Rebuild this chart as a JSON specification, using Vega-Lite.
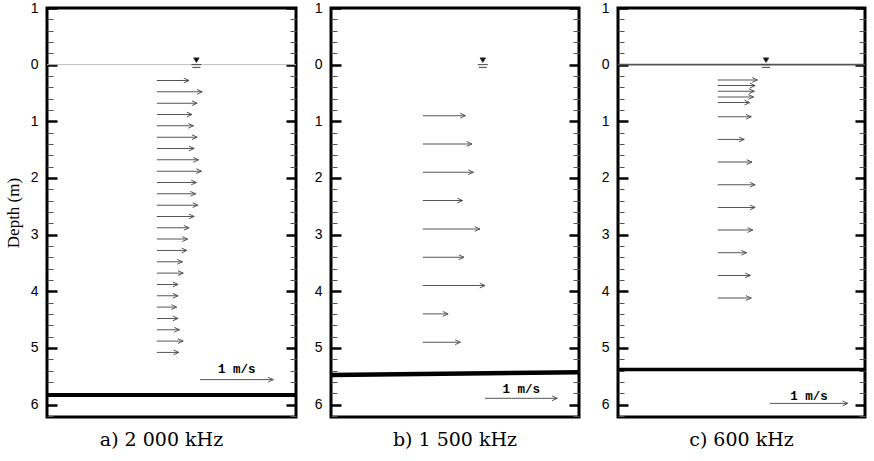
{
  "$schema": "https://vega.github.io/schema/vega-lite/v6.json",
  "background": "white",
  "padding": {"left": 2, "top": -1, "right": 0, "bottom": 0},
  "config": {
    "view": {"stroke": "black", "strokeWidth": 3},
    "scale": {"continuousPadding": 0},
    "axis": {"labelFont": "Liberation Sans", "labelFontSize": 14, "labelColor": "black"},
    "title": {"font": "DejaVu Serif", "fontSize": 19, "fontWeight": "normal", "color": "black", "orient": "bottom", "frame": "group", "anchor": "middle", "offset": 14}
  },
  "datasets": {
    "arrowsA": [
      {"depth": 0.28, "u": 0.44}, {"depth": 0.48, "u": 0.62}, {"depth": 0.68, "u": 0.55}, {"depth": 0.88, "u": 0.48},
      {"depth": 1.08, "u": 0.50}, {"depth": 1.28, "u": 0.55}, {"depth": 1.48, "u": 0.51}, {"depth": 1.68, "u": 0.57},
      {"depth": 1.88, "u": 0.61}, {"depth": 2.08, "u": 0.54}, {"depth": 2.28, "u": 0.53}, {"depth": 2.48, "u": 0.56},
      {"depth": 2.68, "u": 0.51}, {"depth": 2.88, "u": 0.44}, {"depth": 3.08, "u": 0.42}, {"depth": 3.28, "u": 0.41},
      {"depth": 3.48, "u": 0.35}, {"depth": 3.68, "u": 0.36}, {"depth": 3.88, "u": 0.29}, {"depth": 4.08, "u": 0.29},
      {"depth": 4.28, "u": 0.27}, {"depth": 4.48, "u": 0.29}, {"depth": 4.68, "u": 0.31}, {"depth": 4.88, "u": 0.36},
      {"depth": 5.08, "u": 0.30}
    ],
    "arrowsB": [
      {"depth": 0.9, "u": 0.59}, {"depth": 1.4, "u": 0.68}, {"depth": 1.9, "u": 0.70}, {"depth": 2.4, "u": 0.55},
      {"depth": 2.9, "u": 0.79}, {"depth": 3.4, "u": 0.57}, {"depth": 3.9, "u": 0.86}, {"depth": 4.4, "u": 0.35},
      {"depth": 4.9, "u": 0.52}
    ],
    "arrowsC": [
      {"depth": 0.27, "u": 0.51}, {"depth": 0.37, "u": 0.48}, {"depth": 0.47, "u": 0.47}, {"depth": 0.57, "u": 0.46},
      {"depth": 0.67, "u": 0.41}, {"depth": 0.92, "u": 0.43}, {"depth": 1.32, "u": 0.34}, {"depth": 1.72, "u": 0.44},
      {"depth": 2.12, "u": 0.48}, {"depth": 2.52, "u": 0.48}, {"depth": 2.92, "u": 0.45}, {"depth": 3.32, "u": 0.37},
      {"depth": 3.72, "u": 0.42}, {"depth": 4.12, "u": 0.43}
    ],
    "scaleA": [{"from": 0.59, "to": 1.59, "depth": 5.56, "tx": 1.09, "tdepth": 5.37, "label": "1 m/s"}],
    "scaleB": [{"from": 0.86, "to": 1.86, "depth": 5.89, "tx": 1.36, "tdepth": 5.72, "label": "1 m/s"}],
    "scaleC": [{"from": 0.67, "to": 1.67, "depth": 5.98, "tx": 1.17, "tdepth": 5.85, "label": "1 m/s"}],
    "bedA": [{"x": -1.50, "depth": 5.83}, {"x": 1.90, "depth": 5.83}],
    "bedB": [{"x": -1.27, "depth": 5.48}, {"x": 2.16, "depth": 5.43}],
    "bedC": [{"x": -1.28, "depth": 5.38}, {"x": 1.89, "depth": 5.38}],
    "surfA": [{"x": -1.50, "depth": 0}, {"x": 1.90, "depth": 0}],
    "surfC": [{"x": -1.28, "depth": 0}, {"x": 1.89, "depth": 0}],
    "markA": [{"x": 0.54, "depth": 0}],
    "markB": [{"x": 0.83, "depth": 0}],
    "markC": [{"x": 0.62, "depth": 0}]
  },
  "spacing": 6,
  "hconcat": [
    {
      "width": 249, "height": 409,
      "title": {"text": "a) 2 000 kHz", "dx": -10},
      "resolve": {"axis": {"y": "independent"}},
      "layer": [
        {
          "data": {"name": "surfA"},
          "mark": {"type": "line", "color": "#bdbdbd", "strokeWidth": 1},
          "encoding": {
            "x": {"field": "x", "type": "quantitative", "scale": {"domain": [-1.50, 1.90], "nice": false, "zero": false, "padding": 0}, "axis": null},
            "y": {"field": "depth", "type": "quantitative", "scale": {"domain": [-1, 6.22], "reverse": true, "nice": false, "zero": false, "padding": 0}, "axis": null}
          }
        },
        {
          "data": {"name": "arrowsA"},
          "mark": {"type": "bar", "orient": "horizontal", "height": 1, "color": "#555555"},
          "encoding": {
            "x": {"field": "u", "type": "quantitative", "stack": null, "scale": {"domain": [-1.50, 1.90], "nice": false, "zero": false, "padding": 0}, "axis": null},
            "y": {"field": "depth", "type": "quantitative", "scale": {"domain": [-1, 6.22], "reverse": true, "nice": false, "zero": false, "padding": 0},
              "axis": {"orient": "left", "values": [-1, 0, 1, 2, 3, 4, 5, 6], "labelExpr": "format(abs(datum.value), 'd')", "ticks": false, "domain": false, "grid": false, "labelPadding": 9,
                "title": "Depth (m)", "titleFont": "Liberation Serif", "titleFontSize": 17, "titleFontWeight": "normal", "titleColor": "black", "titlePadding": 8}}
          }
        },
        {
          "data": {"name": "arrowsA"},
          "mark": {"type": "point", "shape": "M-1,-0.45L0,0L-1,0.45", "filled": false, "stroke": "#555555", "strokeWidth": 1, "size": 110, "opacity": 1},
          "encoding": {
            "x": {"field": "u", "type": "quantitative", "scale": {"domain": [-1.50, 1.90], "nice": false, "zero": false, "padding": 0}, "axis": null},
            "y": {"field": "depth", "type": "quantitative", "scale": {"domain": [-1, 6.22], "reverse": true, "nice": false, "zero": false, "padding": 0},
              "axis": {"orient": "left", "values": [-1, 0, 1, 2, 3, 4, 5, 6], "labels": false, "domain": false, "grid": false, "title": null, "tickSize": -10, "tickWidth": 2.5, "tickColor": "black"}}
          }
        },
        {
          "data": {"name": "scaleA"},
          "mark": {"type": "rule", "color": "#555555", "strokeWidth": 1},
          "encoding": {
            "x": {"field": "from", "type": "quantitative", "scale": {"domain": [-1.50, 1.90], "nice": false, "zero": false, "padding": 0}, "axis": null},
            "x2": {"field": "to"},
            "y": {"field": "depth", "type": "quantitative", "scale": {"domain": [-1, 6.22], "reverse": true, "nice": false, "zero": false, "padding": 0},
              "axis": {"orient": "left", "values": [-0.8, -0.6, -0.4, -0.2, 0.2, 0.4, 0.6, 0.8, 1.2, 1.4, 1.6, 1.8, 2.2, 2.4, 2.6, 2.8, 3.2, 3.4, 3.6, 3.8, 4.2, 4.4, 4.6, 4.8, 5.2, 5.4, 5.6, 5.8, 6.2], "labels": false, "domain": false, "grid": false, "title": null, "tickSize": -6, "tickWidth": 1, "tickColor": "#555555"}}
          }
        },
        {
          "data": {"name": "scaleA"},
          "mark": {"type": "point", "shape": "M-1,-0.45L0,0L-1,0.45", "filled": false, "stroke": "#555555", "strokeWidth": 1, "size": 110, "opacity": 1},
          "encoding": {
            "x": {"field": "to", "type": "quantitative", "scale": {"domain": [-1.50, 1.90], "nice": false, "zero": false, "padding": 0}, "axis": null},
            "y": {"field": "depth", "type": "quantitative", "scale": {"domain": [-1, 6.22], "reverse": true, "nice": false, "zero": false, "padding": 0},
              "axis": {"orient": "right", "values": [-1, 0, 1, 2, 3, 4, 5, 6], "labels": false, "domain": false, "grid": false, "title": null, "tickSize": -10, "tickWidth": 2.5, "tickColor": "black"}}
          }
        },
        {
          "data": {"name": "scaleA"},
          "mark": {"type": "text", "font": "Liberation Mono", "fontWeight": "bold", "fontSize": 12.5, "color": "black", "baseline": "middle", "align": "center"},
          "encoding": {
            "x": {"field": "tx", "type": "quantitative", "scale": {"domain": [-1.50, 1.90], "nice": false, "zero": false, "padding": 0}, "axis": null},
            "y": {"field": "tdepth", "type": "quantitative", "scale": {"domain": [-1, 6.22], "reverse": true, "nice": false, "zero": false, "padding": 0},
              "axis": {"orient": "right", "values": [-0.8, -0.6, -0.4, -0.2, 0.2, 0.4, 0.6, 0.8, 1.2, 1.4, 1.6, 1.8, 2.2, 2.4, 2.6, 2.8, 3.2, 3.4, 3.6, 3.8, 4.2, 4.4, 4.6, 4.8, 5.2, 5.4, 5.6, 5.8, 6.2], "labels": false, "domain": false, "grid": false, "title": null, "tickSize": -6, "tickWidth": 1, "tickColor": "#555555"}},
            "text": {"field": "label", "type": "nominal"}
          }
        },
        {
          "data": {"name": "bedA"},
          "mark": {"type": "line", "color": "black", "strokeWidth": 4, "strokeCap": "butt"},
          "encoding": {
            "x": {"field": "x", "type": "quantitative", "scale": {"domain": [-1.50, 1.90], "nice": false, "zero": false, "padding": 0}, "axis": null},
            "y": {"field": "depth", "type": "quantitative", "scale": {"domain": [-1, 6.22], "reverse": true, "nice": false, "zero": false, "padding": 0}, "axis": null}
          }
        },
        {
          "data": {"name": "markA"},
          "mark": {"type": "point", "shape": "M-0.55,-1.35L0.55,-1.35L0,-0.45Z M-1,0L1,0 M-0.8,0.55L0.8,0.55", "filled": true, "fill": "black", "stroke": "#444444", "strokeWidth": 1, "size": 100, "opacity": 1},
          "encoding": {
            "x": {"field": "x", "type": "quantitative", "scale": {"domain": [-1.50, 1.90], "nice": false, "zero": false, "padding": 0}, "axis": null},
            "y": {"field": "depth", "type": "quantitative", "scale": {"domain": [-1, 6.22], "reverse": true, "nice": false, "zero": false, "padding": 0}, "axis": null}
          }
        }
      ]
    },
    {
      "spacing": 9,
      "hconcat": [
        {
          "width": 248, "height": 409,
          "title": {"text": "b) 1 500 kHz"},
          "resolve": {"axis": {"y": "independent"}},
          "layer": [
            {
              "data": {"name": "arrowsB"},
              "mark": {"type": "bar", "orient": "horizontal", "height": 1, "color": "#555555"},
              "encoding": {
                "x": {"field": "u", "type": "quantitative", "stack": null, "scale": {"domain": [-1.27, 2.16], "nice": false, "zero": false, "padding": 0}, "axis": null},
                "y": {"field": "depth", "type": "quantitative", "scale": {"domain": [-1, 6.22], "reverse": true, "nice": false, "zero": false, "padding": 0},
                  "axis": {"orient": "left", "values": [-1, 0, 1, 2, 3, 4, 5, 6], "labelExpr": "format(abs(datum.value), 'd')", "ticks": false, "domain": false, "grid": false, "labelPadding": 9, "title": null}}
              }
            },
            {
              "data": {"name": "arrowsB"},
              "mark": {"type": "point", "shape": "M-1,-0.45L0,0L-1,0.45", "filled": false, "stroke": "#555555", "strokeWidth": 1, "size": 110, "opacity": 1},
              "encoding": {
                "x": {"field": "u", "type": "quantitative", "scale": {"domain": [-1.27, 2.16], "nice": false, "zero": false, "padding": 0}, "axis": null},
                "y": {"field": "depth", "type": "quantitative", "scale": {"domain": [-1, 6.22], "reverse": true, "nice": false, "zero": false, "padding": 0},
                  "axis": {"orient": "left", "values": [-1, 0, 1, 2, 3, 4, 5, 6], "labels": false, "domain": false, "grid": false, "title": null, "tickSize": -10, "tickWidth": 2.5, "tickColor": "black"}}
              }
            },
            {
              "data": {"name": "scaleB"},
              "mark": {"type": "rule", "color": "#555555", "strokeWidth": 1},
              "encoding": {
                "x": {"field": "from", "type": "quantitative", "scale": {"domain": [-1.27, 2.16], "nice": false, "zero": false, "padding": 0}, "axis": null},
                "x2": {"field": "to"},
                "y": {"field": "depth", "type": "quantitative", "scale": {"domain": [-1, 6.22], "reverse": true, "nice": false, "zero": false, "padding": 0},
                  "axis": {"orient": "left", "values": [-0.8, -0.6, -0.4, -0.2, 0.2, 0.4, 0.6, 0.8, 1.2, 1.4, 1.6, 1.8, 2.2, 2.4, 2.6, 2.8, 3.2, 3.4, 3.6, 3.8, 4.2, 4.4, 4.6, 4.8, 5.2, 5.4, 5.6, 5.8, 6.2], "labels": false, "domain": false, "grid": false, "title": null, "tickSize": -6, "tickWidth": 1, "tickColor": "#555555"}}
              }
            },
            {
              "data": {"name": "scaleB"},
              "mark": {"type": "point", "shape": "M-1,-0.45L0,0L-1,0.45", "filled": false, "stroke": "#555555", "strokeWidth": 1, "size": 110, "opacity": 1},
              "encoding": {
                "x": {"field": "to", "type": "quantitative", "scale": {"domain": [-1.27, 2.16], "nice": false, "zero": false, "padding": 0}, "axis": null},
                "y": {"field": "depth", "type": "quantitative", "scale": {"domain": [-1, 6.22], "reverse": true, "nice": false, "zero": false, "padding": 0},
                  "axis": {"orient": "right", "values": [-1, 0, 1, 2, 3, 4, 5, 6], "labels": false, "domain": false, "grid": false, "title": null, "tickSize": -10, "tickWidth": 2.5, "tickColor": "black"}}
              }
            },
            {
              "data": {"name": "scaleB"},
              "mark": {"type": "text", "font": "Liberation Mono", "fontWeight": "bold", "fontSize": 12.5, "color": "black", "baseline": "middle", "align": "center"},
              "encoding": {
                "x": {"field": "tx", "type": "quantitative", "scale": {"domain": [-1.27, 2.16], "nice": false, "zero": false, "padding": 0}, "axis": null},
                "y": {"field": "tdepth", "type": "quantitative", "scale": {"domain": [-1, 6.22], "reverse": true, "nice": false, "zero": false, "padding": 0},
                  "axis": {"orient": "right", "values": [-0.8, -0.6, -0.4, -0.2, 0.2, 0.4, 0.6, 0.8, 1.2, 1.4, 1.6, 1.8, 2.2, 2.4, 2.6, 2.8, 3.2, 3.4, 3.6, 3.8, 4.2, 4.4, 4.6, 4.8, 5.2, 5.4, 5.6, 5.8, 6.2], "labels": false, "domain": false, "grid": false, "title": null, "tickSize": -6, "tickWidth": 1, "tickColor": "#555555"}},
                "text": {"field": "label", "type": "nominal"}
              }
            },
            {
              "data": {"name": "bedB"},
              "mark": {"type": "line", "color": "black", "strokeWidth": 4.5, "strokeCap": "butt"},
              "encoding": {
                "x": {"field": "x", "type": "quantitative", "scale": {"domain": [-1.27, 2.16], "nice": false, "zero": false, "padding": 0}, "axis": null},
                "y": {"field": "depth", "type": "quantitative", "scale": {"domain": [-1, 6.22], "reverse": true, "nice": false, "zero": false, "padding": 0}, "axis": null}
              }
            },
            {
              "data": {"name": "markB"},
              "mark": {"type": "point", "shape": "M-0.55,-1.35L0.55,-1.35L0,-0.45Z M-1,0L1,0 M-0.8,0.55L0.8,0.55", "filled": true, "fill": "black", "stroke": "#444444", "strokeWidth": 1, "size": 100, "opacity": 1},
              "encoding": {
                "x": {"field": "x", "type": "quantitative", "scale": {"domain": [-1.27, 2.16], "nice": false, "zero": false, "padding": 0}, "axis": null},
                "y": {"field": "depth", "type": "quantitative", "scale": {"domain": [-1, 6.22], "reverse": true, "nice": false, "zero": false, "padding": 0}, "axis": null}
              }
            }
          ]
        },
        {
          "width": 247, "height": 409,
          "title": {"text": "c) 600 kHz"},
          "resolve": {"axis": {"y": "independent"}},
          "layer": [
            {
              "data": {"name": "surfC"},
              "mark": {"type": "line", "color": "#555555", "strokeWidth": 1.6},
              "encoding": {
                "x": {"field": "x", "type": "quantitative", "scale": {"domain": [-1.28, 1.89], "nice": false, "zero": false, "padding": 0}, "axis": null},
                "y": {"field": "depth", "type": "quantitative", "scale": {"domain": [-1, 6.22], "reverse": true, "nice": false, "zero": false, "padding": 0}, "axis": null}
              }
            },
            {
              "data": {"name": "arrowsC"},
              "mark": {"type": "bar", "orient": "horizontal", "height": 1, "color": "#555555"},
              "encoding": {
                "x": {"field": "u", "type": "quantitative", "stack": null, "scale": {"domain": [-1.28, 1.89], "nice": false, "zero": false, "padding": 0}, "axis": null},
                "y": {"field": "depth", "type": "quantitative", "scale": {"domain": [-1, 6.22], "reverse": true, "nice": false, "zero": false, "padding": 0},
                  "axis": {"orient": "left", "values": [-1, 0, 1, 2, 3, 4, 5, 6], "labelExpr": "format(abs(datum.value), 'd')", "ticks": false, "domain": false, "grid": false, "labelPadding": 9, "title": null}}
              }
            },
            {
              "data": {"name": "arrowsC"},
              "mark": {"type": "point", "shape": "M-1,-0.45L0,0L-1,0.45", "filled": false, "stroke": "#555555", "strokeWidth": 1, "size": 110, "opacity": 1},
              "encoding": {
                "x": {"field": "u", "type": "quantitative", "scale": {"domain": [-1.28, 1.89], "nice": false, "zero": false, "padding": 0}, "axis": null},
                "y": {"field": "depth", "type": "quantitative", "scale": {"domain": [-1, 6.22], "reverse": true, "nice": false, "zero": false, "padding": 0},
                  "axis": {"orient": "left", "values": [-1, 0, 1, 2, 3, 4, 5, 6], "labels": false, "domain": false, "grid": false, "title": null, "tickSize": -10, "tickWidth": 2.5, "tickColor": "black"}}
              }
            },
            {
              "data": {"name": "scaleC"},
              "mark": {"type": "rule", "color": "#555555", "strokeWidth": 1},
              "encoding": {
                "x": {"field": "from", "type": "quantitative", "scale": {"domain": [-1.28, 1.89], "nice": false, "zero": false, "padding": 0}, "axis": null},
                "x2": {"field": "to"},
                "y": {"field": "depth", "type": "quantitative", "scale": {"domain": [-1, 6.22], "reverse": true, "nice": false, "zero": false, "padding": 0},
                  "axis": {"orient": "left", "values": [-0.8, -0.6, -0.4, -0.2, 0.2, 0.4, 0.6, 0.8, 1.2, 1.4, 1.6, 1.8, 2.2, 2.4, 2.6, 2.8, 3.2, 3.4, 3.6, 3.8, 4.2, 4.4, 4.6, 4.8, 5.2, 5.4, 5.6, 5.8, 6.2], "labels": false, "domain": false, "grid": false, "title": null, "tickSize": -6, "tickWidth": 1, "tickColor": "#555555"}}
              }
            },
            {
              "data": {"name": "scaleC"},
              "mark": {"type": "point", "shape": "M-1,-0.45L0,0L-1,0.45", "filled": false, "stroke": "#555555", "strokeWidth": 1, "size": 110, "opacity": 1},
              "encoding": {
                "x": {"field": "to", "type": "quantitative", "scale": {"domain": [-1.28, 1.89], "nice": false, "zero": false, "padding": 0}, "axis": null},
                "y": {"field": "depth", "type": "quantitative", "scale": {"domain": [-1, 6.22], "reverse": true, "nice": false, "zero": false, "padding": 0},
                  "axis": {"orient": "right", "values": [-1, 0, 1, 2, 3, 4, 5, 6], "labels": false, "domain": false, "grid": false, "title": null, "tickSize": -10, "tickWidth": 2.5, "tickColor": "black"}}
              }
            },
            {
              "data": {"name": "scaleC"},
              "mark": {"type": "text", "font": "Liberation Mono", "fontWeight": "bold", "fontSize": 12.5, "color": "black", "baseline": "middle", "align": "center"},
              "encoding": {
                "x": {"field": "tx", "type": "quantitative", "scale": {"domain": [-1.28, 1.89], "nice": false, "zero": false, "padding": 0}, "axis": null},
                "y": {"field": "tdepth", "type": "quantitative", "scale": {"domain": [-1, 6.22], "reverse": true, "nice": false, "zero": false, "padding": 0},
                  "axis": {"orient": "right", "values": [-0.8, -0.6, -0.4, -0.2, 0.2, 0.4, 0.6, 0.8, 1.2, 1.4, 1.6, 1.8, 2.2, 2.4, 2.6, 2.8, 3.2, 3.4, 3.6, 3.8, 4.2, 4.4, 4.6, 4.8, 5.2, 5.4, 5.6, 5.8, 6.2], "labels": false, "domain": false, "grid": false, "title": null, "tickSize": -6, "tickWidth": 1, "tickColor": "#555555"}},
                "text": {"field": "label", "type": "nominal"}
              }
            },
            {
              "data": {"name": "bedC"},
              "mark": {"type": "line", "color": "black", "strokeWidth": 3.5, "strokeCap": "butt"},
              "encoding": {
                "x": {"field": "x", "type": "quantitative", "scale": {"domain": [-1.28, 1.89], "nice": false, "zero": false, "padding": 0}, "axis": null},
                "y": {"field": "depth", "type": "quantitative", "scale": {"domain": [-1, 6.22], "reverse": true, "nice": false, "zero": false, "padding": 0}, "axis": null}
              }
            },
            {
              "data": {"name": "markC"},
              "mark": {"type": "point", "shape": "M-0.55,-1.35L0.55,-1.35L0,-0.45Z M-1,0L1,0 M-0.8,0.55L0.8,0.55", "filled": true, "fill": "black", "stroke": "#444444", "strokeWidth": 1, "size": 100, "opacity": 1},
              "encoding": {
                "x": {"field": "x", "type": "quantitative", "scale": {"domain": [-1.28, 1.89], "nice": false, "zero": false, "padding": 0}, "axis": null},
                "y": {"field": "depth", "type": "quantitative", "scale": {"domain": [-1, 6.22], "reverse": true, "nice": false, "zero": false, "padding": 0}, "axis": null}
              }
            }
          ]
        }
      ]
    }
  ]
}
